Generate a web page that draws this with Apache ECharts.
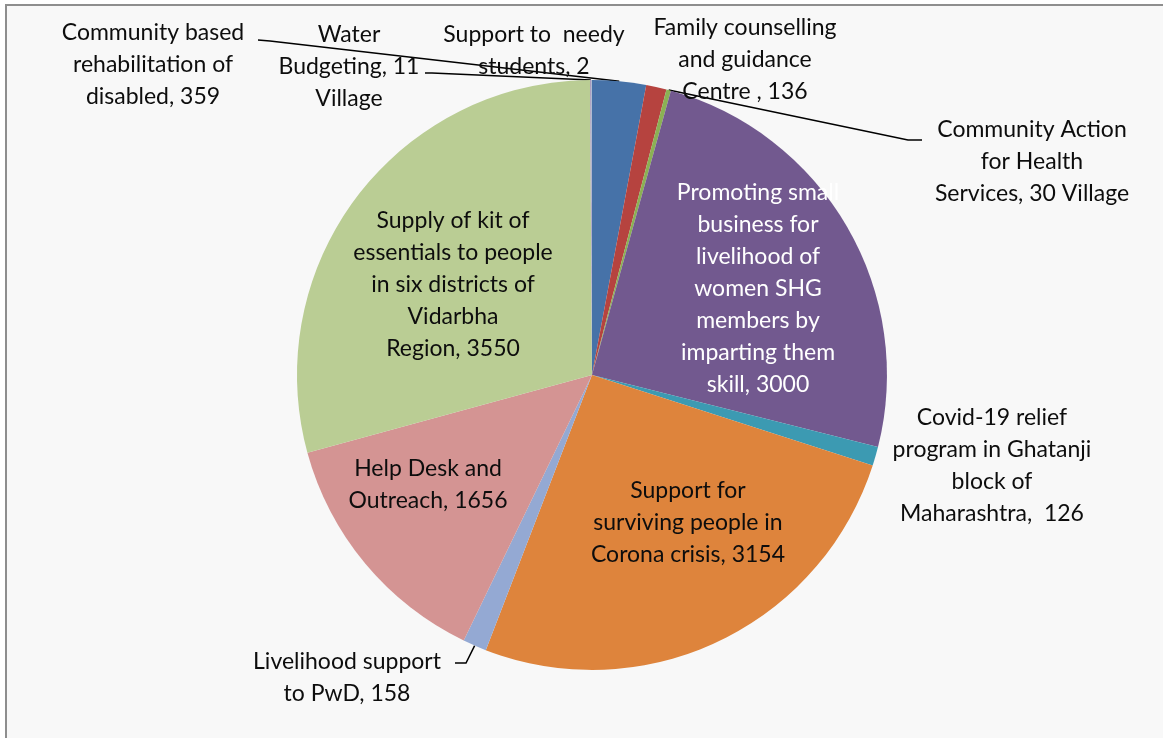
<!DOCTYPE html>
<html>
<head>
<meta charset="utf-8">
<script src="https://cdn.jsdelivr.net/npm/echarts@6/dist/echarts.min.js"></script>
<style>
html,body{margin:0;padding:0;background:#ffffff;}
#main{width:1163px;height:738px;}
</style>
</head>
<body>
<div id="main"></div>
<script>
// ---- data ----
const categories = [
  "Community based rehabilitation of disabled",
  "Family counselling and guidance Centre",
  "Community Action for Health Services",
  "Promoting small business for livelihood of women SHG members by imparting them skill",
  "Covid-19 relief program in Ghatanji block of Maharashtra",
  "Support for surviving people in Corona crisis",
  "Livelihood support to PwD",
  "Help Desk and Outreach",
  "Supply of kit of essentials to people in six districts of Vidarbha Region",
  "Water Budgeting",
  "Support to needy students"
];
const values = [359, 136, 30, 3000, 126, 3154, 158, 1656, 3550, 11, 2];
const labelTemplates = [
  "Community based\nrehabilitation of\ndisabled, {v}",
  "Family counselling\nand guidance\nCentre , {v}",
  "Community Action\nfor Health\nServices, {v} Village",
  "Promoting small\nbusiness for\nlivelihood of\nwomen SHG\nmembers by\nimparting them\nskill, {v}",
  "Covid-19 relief\nprogram in Ghatanji\nblock of\nMaharashtra,  {v}",
  "Support for\nsurviving people in\nCorona crisis, {v}",
  "Livelihood support\nto PwD, {v}",
  "Help Desk and\nOutreach, {v}",
  "Supply of kit of\nessentials to people\nin six districts of\nVidarbha\nRegion, {v}",
  "Water\nBudgeting, {v}\nVillage",
  "Support to  needy\nstudents, {v}"
];

// ---- styling / layout (not data) ----
const colors = ["#4672A8", "#B6433F", "#8BB154", "#72598F", "#3C9AB2", "#DE843C",
                "#94A9D3", "#D49493", "#BACD94", "#A99BBD", "#90CFDF"];
const insideIdx = [3, 5, 7, 8];
const labelCenters = {
  0: [153, 65], 1: [745, 60], 2: [1032, 162], 3: [758, 289], 4: [992, 466],
  5: [688, 523], 6: [347, 678], 7: [428, 485], 8: [453, 285], 9: [349, 67], 10: [534, 51]
};
// leader line: [elbow, end] (start point comes from the pie layout)
const leaders = {
  0: [[270, 41], [258, 40]],
  2: [[908, 140], [922, 140]],
  6: [[466, 663], [455, 663]],
  9: [[432, 73], [425, 73]]
};

const chart = echarts.init(document.getElementById('main'), null, {renderer: 'canvas'});

const seriesData = categories.map((name, i) => {
  const inside = insideIdx.indexOf(i) >= 0;
  return {
    name: name,
    value: values[i],
    itemStyle: {color: colors[i]},
    label: {
      position: inside ? 'inside' : 'outside',
      color: i === 3 ? '#ffffff' : '#0d0d0d'
    },
    labelLine: {show: !inside && leaders[i] !== undefined}
  };
});

chart.setOption({
  backgroundColor: '#ffffff',
  animation: false,
  graphic: [{
    type: 'rect',
    z: 0,
    shape: {x: 6, y: 5, width: 1175, height: 745},
    style: {fill: '#f8f8f8', stroke: '#8e8e8e', lineWidth: 2}
  }],
  series: [{
    type: 'pie',
    z: 2,
    center: ['50.9%', '50.8%'],
    radius: 295,
    startAngle: 90,
    clockwise: true,
    avoidLabelOverlap: false,
    data: seriesData,
    itemStyle: {borderWidth: 0},
    emphasis: {disabled: true},
    label: {
      show: true,
      fontFamily: 'Lato',
      fontSize: 23,
      lineHeight: 32,
      align: 'center',
      formatter: p => labelTemplates[p.dataIndex].replace('{v}', p.value)
    },
    labelLine: {
      show: true,
      length: 10,
      length2: 10,
      lineStyle: {color: '#000000', width: 1.5}
    },
    labelLayout: function (params) {
      const i = params.dataIndex;
      const c = labelCenters[i];
      const out = {x: c[0], y: c[1], align: 'center', verticalAlign: 'middle'};
      if (leaders[i] && params.labelLinePoints) {
        const start = params.labelLinePoints[0];
        out.labelLinePoints = [start, leaders[i][0], leaders[i][1]];
      }
      return out;
    }
  }]
});
</script>
</body>
</html>
